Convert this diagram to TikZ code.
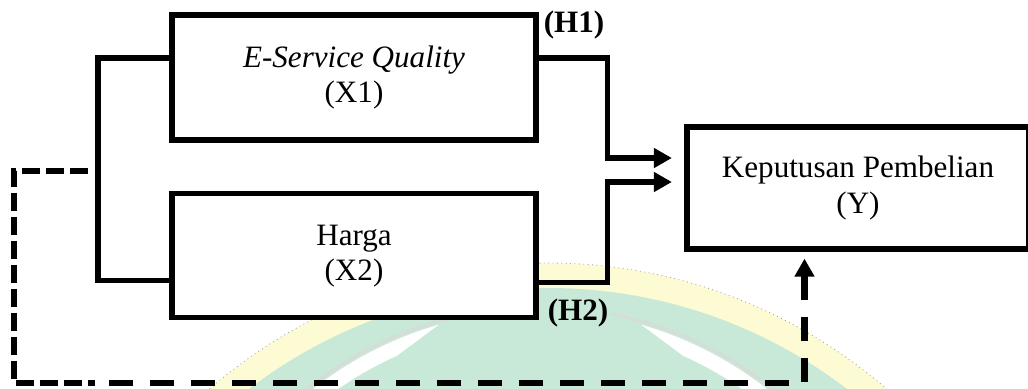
\documentclass[tikz,border=0pt]{standalone}
\usepackage{fontspec}
\setmainfont{Liberation Serif}
\usepackage{xcolor}
\usepackage{tikz}
\usetikzlibrary{arrows.meta,positioning,calc}
\definecolor{wmgreen}{RGB}{200,233,216}
\definecolor{wmyellow}{RGB}{253,251,212}
\definecolor{wmgrey}{RGB}{214,220,216}

\begin{document}
\begin{tikzpicture}[
    varbox/.style={rectangle, draw=black, fill=white, line width=0.105cm, minimum width=7.28cm, minimum height=2.5cm, align=center, font=\fontsize{17.7}{20}\selectfont},
    ybox/.style={varbox, minimum width=6.84cm, minimum height=2.44cm},
    hyp/.style={font=\fontsize{17.7}{20}\selectfont\bfseries, inner sep=0pt},
    conn/.style={line width=0.105cm},
    arr/.style={conn, -{Triangle[length=0.36cm,width=0.38cm]}},
    dashdense/.style={line width=0.13cm, dash pattern=on 0.36cm off 0.12cm},
    dashwide/.style={line width=0.13cm, dash pattern=on 0.48cm off 0.34cm, {Triangle[length=0.36cm,width=0.38cm]}-}
]
    \useasboundingbox (0,0) rectangle (20.56,-7.76);
    \clip (0,0) rectangle (20.56,-7.76);

    \coordinate (wm) at (10.96,-15.62);
    \coordinate (wmc) at (10.8,-13.56);
    \fill[wmyellow] (wm) circle[radius=10.36];
    \draw[gray!70, dotted, line width=0.5pt] (wm) circle[radius=10.36];
    \fill[wmgreen] (wm) circle[radius=9.86];
    \draw[wmgrey, line width=0.06cm] (wmc) ++(133:7.42) arc[start angle=133, end angle=101, radius=7.42];
    \draw[wmgrey, line width=0.06cm] (wmc) ++(47:7.42) arc[start angle=47, end angle=79, radius=7.42];
    \fill[white] (wmc) ++(130:7.35) arc[start angle=130, end angle=106, radius=7.35] -- ($(wmc)+(114:7.05)$) arc[start angle=114, end angle=130, radius=7.05] -- cycle;
    \fill[white] (wmc) ++(50:7.35) arc[start angle=50, end angle=74, radius=7.35] -- ($(wmc)+(66:7.05)$) arc[start angle=66, end angle=50, radius=7.05] -- cycle;

    \node[varbox] (x1) at (7.08,-1.55) {\itshape E-Service Quality\\(X1)};
    \node[varbox, minimum height=2.48cm, below=0.97cm of x1] (x2) {Harga\\(X2)};
    \node[ybox] (y) at (17.16,-3.76) {Keputusan Pembelian\\(Y)};
    \node[hyp] (h1) at (11.48,-0.5) {(H1)};
    \node[hyp] (h2) at (11.56,-6.26) {(H2)};
    \coordinate (h3s) at (1.76,-3.42);

    \draw[conn] ([yshift=0.39cm]x1.west) -- ++(-1.43,0) |- ([yshift=-0.5cm]x2.west);
    \draw[arr] ([yshift=0.39cm]x1.east) -- ++(1.37,0) |- ([xshift=-0.25cm,yshift=0.6cm]y.west);
    \draw[arr] ([yshift=-0.54cm]x2.east) -- ++(1.37,0) |- ([xshift=-0.25cm,yshift=0.12cm]y.west);
    \draw[dashdense] (h3s) -- ++(-1.48,0) |- ++(1.62,-4.24) coordinate (h3m);
    \draw[dashwide] ([xshift=-1.07cm,yshift=-0.14cm]y.south) |- (h3m);
\end{tikzpicture}
\end{document}
